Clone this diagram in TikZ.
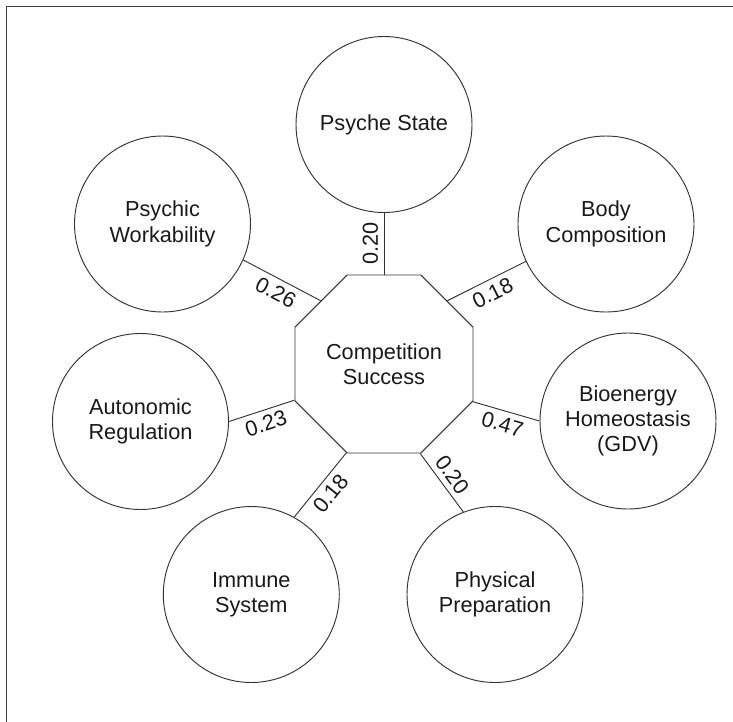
\documentclass[tikz,border=0pt]{standalone}
\usepackage{fontspec}
\setmainfont{Liberation Sans}
\usetikzlibrary{shapes.geometric}
\tikzset{
  factor/.style={circle, draw=black!80, line width=0.7pt, minimum size=132pt, inner sep=0pt, align=center},
  hub/.style={regular polygon, regular polygon sides=8, draw=black!80, line width=0.7pt, minimum size=144.5pt, inner sep=0pt, align=center},
  link/.style={draw=black!80, line width=0.7pt},
  weight/.style={sloped, inner sep=4pt}
}
\begin{document}
\begin{tikzpicture}[x=0.75pt,y=-0.75pt, font=\fontsize{16.3}{19}\selectfont, text=black!90]
\useasboundingbox (0,0) rectangle (733,722);
% frame
\draw[line width=1.3pt, black!75] (733,6.5)--(6.5,6.5)--(6.5,722);
% hub and factors
\node[hub] (cs) at (384,364) {Competition\\Success};
\node[factor] (ps) at (384,124.5) {Psyche State};
\node[factor] (pw) at (162.5,224) {Psychic\\Workability};
\node[factor] (bc) at (606,224) {Body\\Composition};
\node[factor] (ar) at (140.5,421.5) {Autonomic\\Regulation};
\node[factor] (bh) at (628,421) {Bioenergy\\Homeostasis\\(GDV)};
\node[factor] (is) at (251.3,594.5) {Immune\\System};
\node[factor] (pp) at (495,594.5) {Physical\\Preparation};
% weighted links
\draw[link] (cs.90) -- node[weight,above]{0.20} (ps.south);
\draw[link] (cs.135) -- node[weight,below]{0.26} (pw.-24);
\draw[link] (cs.45) -- node[weight,below]{0.18} (bc.205.7);
\draw[link] (cs.202.5) -- node[weight,below]{0.23} (ar.east);
\draw[link] (cs.337.5) -- node[weight,below]{0.47} (bh.west);
\draw[link] (cs.247.5) -- node[weight,below]{0.18} (is.61);
\draw[link] (cs.292.5) -- node[weight,above]{0.20} (pp.111);
\end{tikzpicture}
\end{document}
